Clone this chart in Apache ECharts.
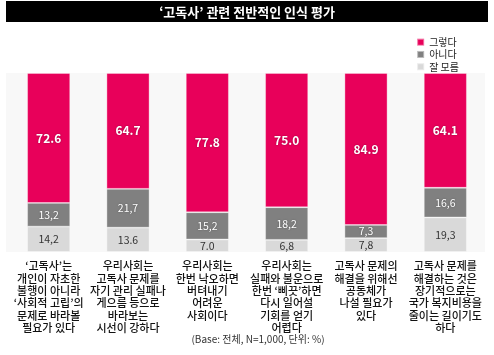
<!DOCTYPE html>
<html><head><meta charset="utf-8">
<script src="https://cdn.jsdelivr.net/npm/echarts@6/dist/echarts.min.js"></script>
<style>html,body{margin:0;padding:0;background:#fff}#c{width:494px;height:355px}</style>
</head><body><div id="c"></div>
<script>
const categories = [
  "‘고독사’는\n개인이 자초한\n불행이 아니라\n‘사회적 고립’의\n문제로 바라볼\n필요가 있다",
  "우리사회는\n고독사 문제를\n자기 관리 실패나\n게으름 등으로\n바라보는\n시선이 강하다",
  "우리사회는\n한번 낙오하면\n버텨내기\n어려운\n사회이다",
  "우리사회는\n실패와 불운으로\n한번 ‘삐끗’하면\n다시 일어설\n기회를 얻기\n어렵다",
  "고독사 문제의\n해결을 위해선\n공동체가\n나설 필요가\n있다",
  "고독사 문제를\n해결하는 것은\n장기적으로는\n국가 복지비용을\n줄이는 길이기도\n하다"
];
const yes = [72.6, 64.7, 77.8, 75.0, 84.9, 64.1];
const no = [13.2, 21.7, 15.2, 18.2, 7.3, 16.6];
const dk = [14.2, 13.6, 7.0, 6.8, 7.8, 19.3];
const yesLabels = ["72.6", "64.7", "77.8", "75.0", "84.9", "64.1"];
const noLabels = ["13,2", "21,7", "15,2", "18,2", "7,3", "16,6"];
const dkLabels = ["14,2", "13.6", "7.0", "6,8", "7,8", "19,3"];
const seriesNames = ["그렇다", "아니다", "잘 모름"];

const font = "'Noto Sans CJK KR', 'Noto Sans', sans-serif";
const chart = echarts.init(document.getElementById('c'));
const mk = (name, data, labels, color, textColor, size, order) => ({
  name, type: 'bar', stack: 'all', data, barWidth: 43, z: 3,
  itemStyle: { color, borderColor: 'rgba(255,255,255,0.45)', borderWidth: 0.8 },
  label: { show: true, position: 'inside', color: textColor, fontSize: size, fontFamily: font,
    fontWeight: order === 0 ? 'bold' : 'normal',
    textShadowColor: order === 2 ? 'transparent' : 'rgba(0,0,0,0.35)', textShadowBlur: order === 2 ? 0 : 2,
    formatter: p => labels[p.dataIndex] }
});
chart.setOption({
  animation: false,
  textStyle: { fontFamily: font },
  graphic: [
    { type: 'rect', shape: { x: 6, y: 1, width: 482, height: 21 }, style: { fill: '#000' } },
    { type: 'text', x: 247, y: 12, style: { text: '‘고독사’ 관련 전반적인 인식 평가', fill: '#fff', font: 'bold 13px ' + font, align: 'center', verticalAlign: 'middle' } },
    { type: 'rect', shape: { x: 6, y: 73, width: 479, height: 179 }, style: { fill: '#f8f8f8' }, z: -10 },
    { type: 'text', x: 258, y: 339, style: { text: '(Base: 전체, N=1,000, 단위: %)', fill: '#333', font: '10px ' + font, align: 'center', verticalAlign: 'middle' } }
  ],
  legend: {
    orient: 'vertical', right: 30, top: 31, itemWidth: 7, itemHeight: 7, itemGap: 0,
    icon: 'rect', textStyle: { fontSize: 10, lineHeight: 12.3, color: '#222', fontFamily: font },
    data: seriesNames
  },
  grid: { left: 9, right: 9, top: 73, bottom: 103 },
  xAxis: {
    type: 'category', data: categories,
    axisLine: { show: false }, axisTick: { show: false },
    axisLabel: { interval: 0, color: '#111', fontSize: 11, lineHeight: 12.3, margin: 8, fontFamily: font, fontWeight: 500, verticalAlign: 'top' }
  },
  yAxis: { type: 'value', min: 0, max: 100, show: false, splitLine: { show: false } },
  series: [
    mk(seriesNames[0], yes, yesLabels, '#e8005a', '#fff', 12, 0),
    mk(seriesNames[1], no, noLabels, '#808080', '#fff', 10.5, 1),
    mk(seriesNames[2], dk, dkLabels, '#d9d9d9', '#333', 10.5, 2)
  ].reverse()
});
</script></body></html>
